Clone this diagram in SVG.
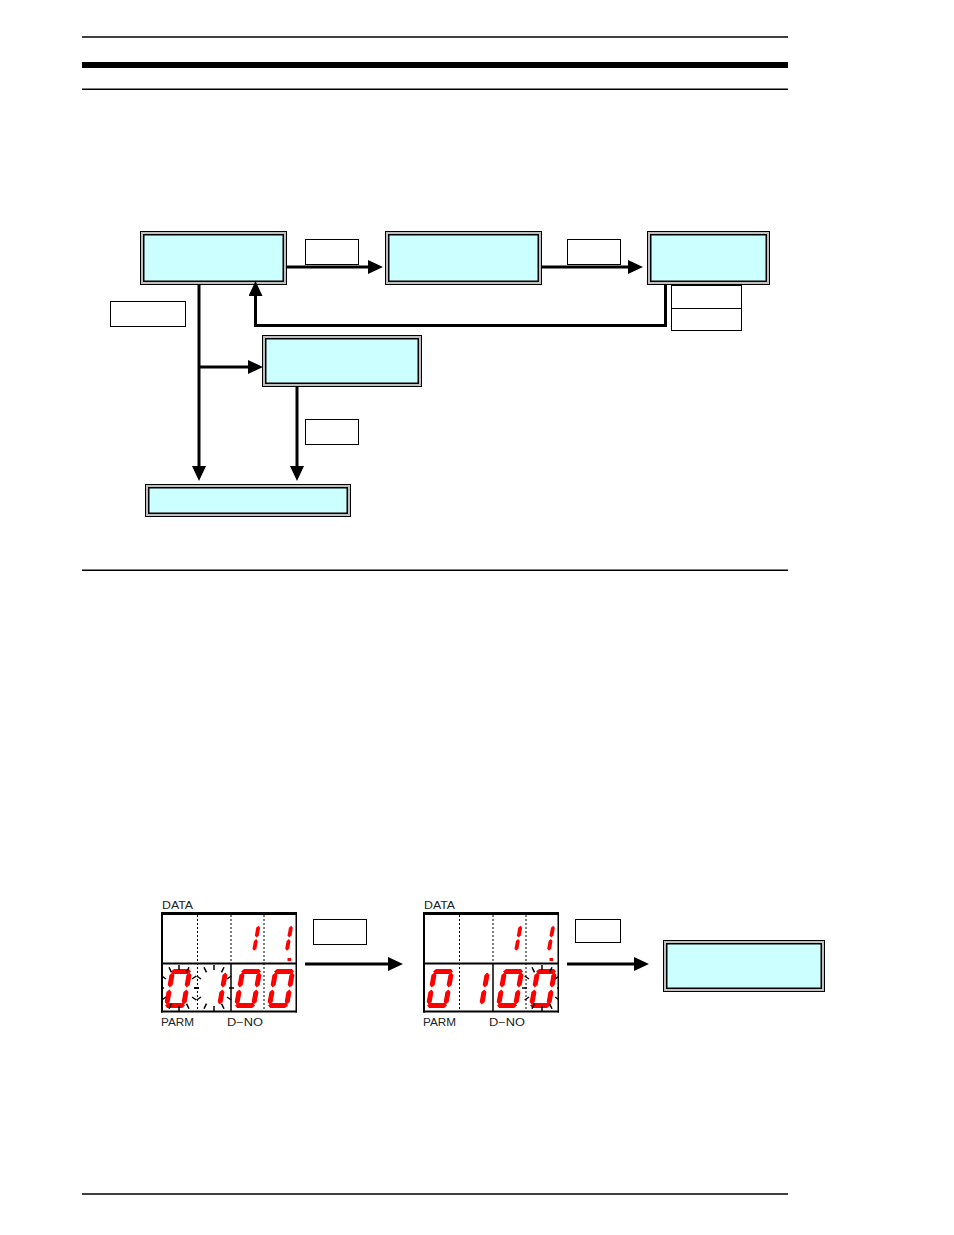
<svg xmlns="http://www.w3.org/2000/svg" xmlns:xlink="http://www.w3.org/1999/xlink" width="954" height="1235" viewBox="0 0 954 1235">
<style>
.outer{fill:#c0c0c0;stroke:#000;stroke-width:1}
.inner{fill:#ccffff;stroke:#000;stroke-width:1.5}
.lbl{fill:#fff;stroke:#000;stroke-width:1}
.conn{fill:none;stroke:#000;stroke-width:3;marker-end:url(#arr)}
.rule{stroke:#000;stroke-width:1.5}
.seg{fill:#ff0000}
.dash{stroke:#000;stroke-width:1;stroke-dasharray:2 2}
.frame{stroke:#000;fill:none}
.blk{stroke:#000;stroke-width:1.5}
.txt{font-family:"Liberation Sans",Arial,sans-serif;font-size:10px;fill:#222}
</style>
<defs>
<marker id="arr" markerUnits="userSpaceOnUse" markerWidth="16" markerHeight="14" refX="5" refY="7" orient="auto">
<path d="M0,0 L15,7 L0,14 Z" fill="#000"/>
</marker>
<polygon id="sa" points="3.5,0 18.5,0 21,2.5 18.5,5 3.5,5 1,2.5"/>
<polygon id="sg" points="3.5,17 18.5,17 21,19.5 18.5,22 3.5,22 1,19.5"/>
<polygon id="sd" points="3.5,34 18.5,34 21,36.5 18.5,39 3.5,39 1,36.5"/>
<polygon id="sf" points="2.5,3.5 5,6 5,16 2.5,18.5 0,16 0,6"/>
<polygon id="sb" points="19.5,3.5 22,6 22,16 19.5,18.5 17,16 17,6"/>
<polygon id="se" points="2.5,20.5 5,23 5,33 2.5,35.5 0,33 0,23"/>
<polygon id="sc" points="19.5,20.5 22,23 22,33 19.5,35.5 17,33 17,23"/>
<g id="dig0" class="seg"><use xlink:href="#sa"/><use xlink:href="#sb"/><use xlink:href="#sc"/><use xlink:href="#sd"/><use xlink:href="#se"/><use xlink:href="#sf"/></g>
<g id="dig1" class="seg"><use xlink:href="#sb"/><use xlink:href="#sc"/></g>
<g id="blink" class="blk">
<line x1="-13" y1="-9" x2="-17.3" y2="-12"/>
<line x1="-7.5" y1="-15.6" x2="-10" y2="-20.8"/>
<line x1="0" y1="-18" x2="0" y2="-24"/>
<line x1="7.5" y1="-15.6" x2="10" y2="-20.8"/>
<line x1="13" y1="-9" x2="17.3" y2="-12"/>
<line x1="15" y1="0" x2="20" y2="0"/>
<line x1="13" y1="9" x2="17.3" y2="12"/>
<line x1="7.5" y1="15.6" x2="10" y2="20.8"/>
<line x1="0" y1="18" x2="0" y2="24"/>
<line x1="-7.5" y1="15.6" x2="-10" y2="20.8"/>
<line x1="-13" y1="9" x2="-17.3" y2="12"/>
<line x1="-15" y1="0" x2="-20" y2="0"/>
</g>
<clipPath id="clip1"><rect x="163" y="965" width="133" height="46"/></clipPath>
<clipPath id="clip2"><rect x="425" y="965" width="133" height="46"/></clipPath>
</defs>
<rect width="954" height="1235" fill="#fff"/>

<g id="rules">
<line class="rule" x1="82" y1="37" x2="788" y2="37"/>
<rect x="82" y="62" width="706" height="6" fill="#000"/>
<line class="rule" x1="82" y1="89.3" x2="788" y2="89.3"/>
<line class="rule" x1="82" y1="570.3" x2="788" y2="570.3"/>
<line class="rule" x1="82" y1="1194" x2="788" y2="1194"/>
</g>

<g id="n1"><rect class="outer" x="140.5" y="231.5" width="146" height="53"/><rect class="inner" x="143.75" y="234.75" width="139.5" height="46.5"/></g>
<g id="n2"><rect class="outer" x="385.5" y="231.5" width="156" height="53"/><rect class="inner" x="388.75" y="234.75" width="149.5" height="46.5"/></g>
<g id="n3"><rect class="outer" x="647.5" y="231.5" width="122" height="53"/><rect class="inner" x="650.75" y="234.75" width="115.5" height="46.5"/></g>
<g id="n4"><rect class="outer" x="262.5" y="335.5" width="159" height="51"/><rect class="inner" x="265.75" y="338.75" width="152.5" height="44.5"/></g>
<g id="n5"><rect class="outer" x="145.5" y="484.5" width="205" height="32"/><rect class="inner" x="148.75" y="487.75" width="198.5" height="25.5"/></g>
<g id="n6"><rect class="outer" x="663.5" y="940.5" width="161" height="51"/><rect class="inner" x="666.75" y="943.75" width="154.5" height="44.5"/></g>

<g id="l1"><rect class="lbl" x="305.5" y="239.5" width="53" height="25"/></g>
<g id="l2"><rect class="lbl" x="567.5" y="239.5" width="53" height="25"/></g>
<g id="l3"><rect class="lbl" x="110.5" y="301.5" width="75" height="25"/></g>
<g id="l4"><rect class="lbl" x="671.5" y="285.5" width="70" height="23"/></g>
<g id="l5"><rect class="lbl" x="671.5" y="308.5" width="70" height="22"/></g>
<g id="l6"><rect class="lbl" x="305.5" y="419.5" width="53" height="25"/></g>
<g id="l7"><rect class="lbl" x="313.5" y="919.5" width="53" height="25"/></g>
<g id="l8"><rect class="lbl" x="575.5" y="919.5" width="45" height="23"/></g>

<g id="d1">
<text class="txt" x="162" y="909" textLength="31" lengthAdjust="spacingAndGlyphs">DATA</text>
<text class="txt" x="161" y="1026" textLength="33" lengthAdjust="spacingAndGlyphs">PARM</text>
<text class="txt" x="227" y="1026" textLength="36" lengthAdjust="spacingAndGlyphs">D−NO</text>
<line class="dash" x1="197.5" y1="915" x2="197.5" y2="1011"/>
<line class="dash" x1="231" y1="915" x2="231" y2="963"/>
<line class="dash" x1="264" y1="915" x2="264" y2="1011"/>
<line class="frame" x1="231" y1="963" x2="231" y2="1011" stroke-width="1.5"/>
<line class="frame" x1="162" y1="963.5" x2="296" y2="963.5" stroke-width="2"/>
<line class="frame" x1="161" y1="913.5" x2="297" y2="913.5" stroke-width="3"/>
<line class="frame" x1="162" y1="912" x2="162" y2="1012.5" stroke-width="2"/>
<line class="frame" x1="161" y1="1011.5" x2="297" y2="1011.5" stroke-width="2"/>
<line class="frame" x1="296.25" y1="912" x2="296.25" y2="1012.5" stroke-width="1.5"/>
<use xlink:href="#dig1" transform="translate(243.8,923) skewX(-10) scale(0.78)"/>
<use xlink:href="#dig1" transform="translate(276.5,923) skewX(-10) scale(0.78)"/>
<rect class="seg" x="287.5" y="958" width="3.5" height="3"/>
<use xlink:href="#dig0" transform="translate(170.5,969) skewX(-10)"/>
<use xlink:href="#dig1" transform="translate(206.5,969) skewX(-10)"/>
<use xlink:href="#dig0" transform="translate(240.5,969) skewX(-10)"/>
<use xlink:href="#dig0" transform="translate(273.5,969) skewX(-10)"/>
<g clip-path="url(#clip1)">
<use xlink:href="#blink" transform="translate(179,988)"/>
<use xlink:href="#blink" transform="translate(214,988)"/>
</g>
</g>

<g id="d2">
<text class="txt" x="424" y="909" textLength="31" lengthAdjust="spacingAndGlyphs">DATA</text>
<text class="txt" x="423" y="1026" textLength="33" lengthAdjust="spacingAndGlyphs">PARM</text>
<text class="txt" x="489" y="1026" textLength="36" lengthAdjust="spacingAndGlyphs">D−NO</text>
<line class="dash" x1="459.5" y1="915" x2="459.5" y2="1011"/>
<line class="dash" x1="493" y1="915" x2="493" y2="963"/>
<line class="dash" x1="526" y1="915" x2="526" y2="1011"/>
<line class="frame" x1="493" y1="963" x2="493" y2="1011" stroke-width="1.5"/>
<line class="frame" x1="424" y1="963.5" x2="558" y2="963.5" stroke-width="2"/>
<line class="frame" x1="423" y1="913.5" x2="559" y2="913.5" stroke-width="3"/>
<line class="frame" x1="424" y1="912" x2="424" y2="1012.5" stroke-width="2"/>
<line class="frame" x1="423" y1="1011.5" x2="559" y2="1011.5" stroke-width="2"/>
<line class="frame" x1="558.25" y1="912" x2="558.25" y2="1012.5" stroke-width="1.5"/>
<use xlink:href="#dig1" transform="translate(505.8,923) skewX(-10) scale(0.78)"/>
<use xlink:href="#dig1" transform="translate(538.5,923) skewX(-10) scale(0.78)"/>
<rect class="seg" x="549.5" y="958" width="3.5" height="3"/>
<use xlink:href="#dig0" transform="translate(432.5,969) skewX(-10)"/>
<use xlink:href="#dig1" transform="translate(468.5,969) skewX(-10)"/>
<use xlink:href="#dig0" transform="translate(502.5,969) skewX(-10)"/>
<use xlink:href="#dig0" transform="translate(535.5,969) skewX(-10)"/>
<g clip-path="url(#clip2)">
<use xlink:href="#blink" transform="translate(542,988)"/>
</g>
</g>

<g id="connectors">
<path class="conn" d="M287,267 H373"/>
<path class="conn" d="M542,267 H633"/>
<path class="conn" d="M665.5,285 V325.5 H255.5 V291"/>
<path class="conn" d="M199,285 V471"/>
<path class="conn" d="M199,367 H253"/>
<path class="conn" d="M297,387 V471"/>
<path class="conn" d="M305,964 H393"/>
<path class="conn" d="M567,964 H639"/>
</g>
</svg>
